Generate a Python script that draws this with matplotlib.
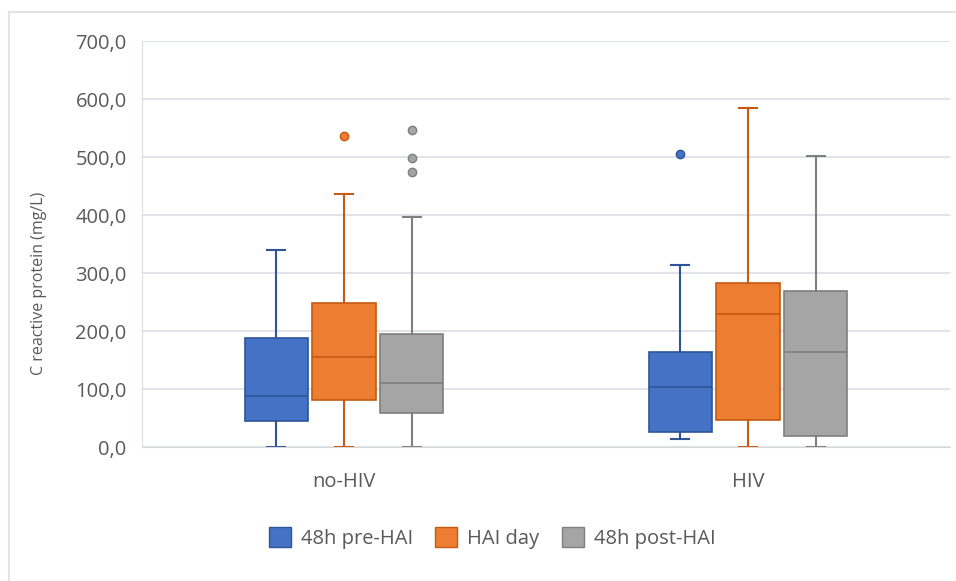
import matplotlib
matplotlib.use('Agg')
import matplotlib.pyplot as plt
from matplotlib.patches import Patch
from matplotlib.lines import Line2D
from matplotlib.ticker import FuncFormatter

plt.rcParams['font.family'] = ['Open Sans', 'DejaVu Sans']

groups = ['no-HIV', 'HIV']
series = ['48h pre-HAI', 'HAI day', '48h post-HAI']
colors = ['#4472C4', '#ED7D31', '#A5A5A5']
edges = ['#2F5597', '#C55A11', '#7F7F7F']

# valores: [no-HIV, HIV]
whislo = {'48h pre-HAI': [0, 13], 'HAI day': [0, 0], '48h post-HAI': [0, 0]}
q1 = {'48h pre-HAI': [44, 26], 'HAI day': [81, 47], '48h post-HAI': [58, 19]}
med = {'48h pre-HAI': [88, 103], 'HAI day': [155, 230], '48h post-HAI': [110, 164]}
q3 = {'48h pre-HAI': [188, 164], 'HAI day': [248, 283], '48h post-HAI': [195, 269]}
whishi = {'48h pre-HAI': [340, 313], 'HAI day': [436, 584], '48h post-HAI': [396, 502]}
fliers = {'48h pre-HAI': [[], [505]], 'HAI day': [[536], []], '48h post-HAI': [[546, 499, 474], []]}

fig = plt.figure(figsize=(9.56, 5.81), dpi=100)
ax = fig.add_axes([142 / 956, 1 - 447 / 581, 808 / 956, 406 / 581])

offsets = [-0.168, 0, 0.168]
for i, s in enumerate(series):
    stats = []
    for g in range(len(groups)):
        stats.append({'med': med[s][g], 'q1': q1[s][g], 'q3': q3[s][g],
                      'whislo': whislo[s][g], 'whishi': whishi[s][g],
                      'fliers': fliers[s][g]})
    pos = [g + offsets[i] for g in range(len(groups))]
    ax.bxp(stats, positions=pos, widths=0.156, patch_artist=True, manage_ticks=False,
           boxprops=dict(facecolor=colors[i], edgecolor=edges[i], linewidth=1.2),
           medianprops=dict(color=edges[i], linewidth=1.2),
           whiskerprops=dict(color=edges[i], linewidth=1.5),
           capprops=dict(color=edges[i], linewidth=1.5),
           capwidths=0.045,
           flierprops=dict(marker='o', markerfacecolor=colors[i], markeredgecolor=edges[i],
                           markersize=6, linestyle='none'))

ax.set_xlim(-0.5, 1.5)
ax.set_ylim(0, 700)
ax.set_yticks(range(0, 701, 100))
ax.yaxis.set_major_formatter(FuncFormatter(lambda v, p: f"{v:.1f}".replace('.', ',')))
ax.set_xticks(range(len(groups)))
ax.set_xticklabels(groups)
ax.grid(axis='y', color='#D9DEE6', linewidth=1.2)
ax.set_axisbelow(True)
for sp in ['top', 'right']:
    ax.spines[sp].set_visible(False)
ax.spines['left'].set_color('#D9DEE6')
ax.spines['bottom'].set_color('#D9D9D9')
ax.tick_params(length=0, labelsize=14.5, colors='#595959', pad=11)
ax.tick_params(axis='x', labelsize=14.5, pad=18)
ax.set_ylabel('C reactive protein (mg/L)', fontsize=11.5, color='#595959')
ax.yaxis.set_label_coords(-0.117, 0.404)

handles = [Patch(facecolor=colors[i], edgecolor=edges[i], label=series[i]) for i in range(3)]
fig.legend(handles=handles, loc='center', bbox_to_anchor=(492 / 956, 1 - 538 / 581), ncol=3,
           frameon=False, fontsize=14.5, labelcolor='#595959', handlelength=1.1, handleheight=1.1,
           columnspacing=1.1, handletextpad=0.5)

# moldura cinza clara (so em cima e a esquerda)
fig.add_artist(Line2D([9 / 956, 1], [1 - 12 / 581, 1 - 12 / 581], transform=fig.transFigure,
                      color='#E3E3E3', linewidth=1.5))
fig.add_artist(Line2D([9 / 956, 9 / 956], [0, 1 - 12 / 581], transform=fig.transFigure,
                      color='#E3E3E3', linewidth=1.5))

fig.savefig('out.png', dpi=100)
